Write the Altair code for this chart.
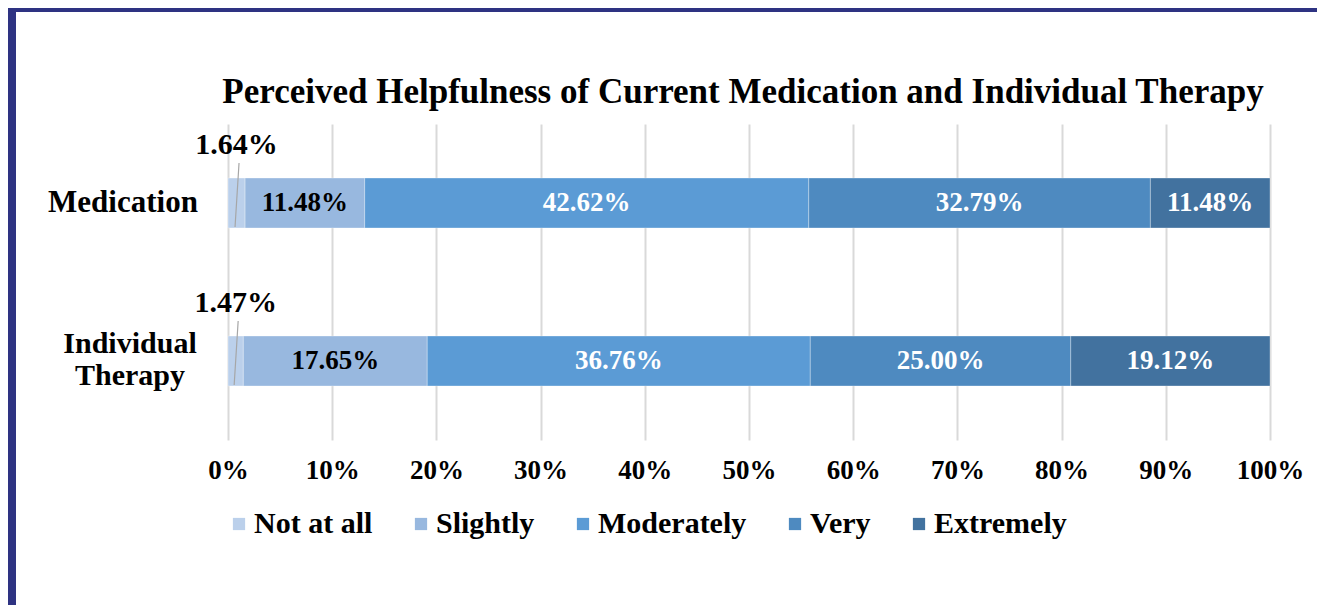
import altair as alt
import pandas as pd

categories = ["Medication", "Individual Therapy"]
levels = ["Not at all", "Slightly", "Moderately", "Very", "Extremely"]
medication = [1.64, 11.48, 42.62, 32.79, 11.48]
therapy = [1.47, 17.65, 36.76, 25.00, 19.12]
colors = ["#BBD0EB", "#98B8DF", "#5B9BD5", "#4E8AC0", "#42729F"]
x_ticks = [0, 0.1, 0.2, 0.3, 0.4, 0.5, 0.6, 0.7, 0.8, 0.9, 1.0]
title_text = "Perceived Helpfulness of Current Medication and Individual Therapy"

rows = []
for cat, vals in zip(categories, [medication, therapy]):
    for i, (lv, v) in enumerate(zip(levels, vals)):
        rows.append({"category": cat, "level": lv, "value": v, "order": i})
df = pd.DataFrame(rows)

FONT = "Liberation Serif"
W, H = 1042, 316
PL, PT, PR, PB = 220, 116, 47, 165

base = (
    alt.Chart(df)
    .transform_stack(
        stack="value",
        groupby=["category"],
        as_=["v0", "v1"],
        offset="normalize",
        sort=[alt.SortField("order", order="ascending")],
    )
    .transform_calculate(
        mid="(datum.v0 + datum.v1) / 2",
        label="format(datum.value, '.2f') + '%'",
    )
)

y_enc = alt.Y(
    "category:N",
    sort=categories,
    scale=alt.Scale(paddingInner=0.684, paddingOuter=0.342),
    axis=alt.Axis(title=None, domain=False, ticks=False, grid=False, labels=False),
)

bars = base.mark_bar(stroke="#FFFFFF", strokeWidth=0.6, strokeOpacity=0.5).encode(
    x=alt.X(
        "v0:Q",
        scale=alt.Scale(domain=[0, 1], nice=False),
        axis=alt.Axis(
            title=None,
            values=x_ticks,
            format=".0%",
            domain=False,
            ticks=False,
            grid=True,
            gridColor="#D9D9D9",
            gridWidth=2,
            labelFont=FONT,
            labelFontWeight="bold",
            labelFontSize=27,
            labelColor="#000000",
            labelBaseline="alphabetic",
            labelPadding=38,
            labelFlush=False,
        ),
    ),
    x2="v1:Q",
    y=y_enc,
    color=alt.Color(
        "level:N",
        sort=levels,
        scale=alt.Scale(domain=levels, range=colors),
        legend=alt.Legend(
            title=None,
            orient="none",
            legendX=-4,
            legendY=385,
            direction="horizontal",
            symbolType="square",
            symbolSize=150,
            symbolStrokeWidth=0,
            labelFont=FONT,
            labelFontWeight="bold",
            labelFontSize=30,
            labelColor="#000000",
            labelOffset=0,
            columnPadding=33,
            labelLimit=0,
        ),
    ),
)

bar_text = (
    base.transform_filter("datum.order > 0")
    .mark_text(font=FONT, fontWeight="bold", fontSize=27, baseline="middle", align="center")
    .encode(
        x="mid:Q",
        y=alt.Y("category:N", sort=categories),
        text="label:N",
        color=alt.condition(
            "datum.level == 'Slightly'", alt.value("#000000"), alt.value("#FFFFFF")
        ),
    )
)

small_text = (
    base.transform_filter("datum.order == 0")
    .mark_text(font=FONT, fontWeight="bold", fontSize=30, baseline="alphabetic", align="center", dy=-49)
    .encode(
        x="mid:Q",
        y=alt.Y("category:N", sort=categories),
        text="label:N",
        color=alt.value("#000000"),
    )
)

leader = (
    base.transform_filter("datum.order == 0")
    .mark_rule(color="#A6A6A6", strokeWidth=1.2, xOffset=2.5, x2Offset=-1.5, yOffset=-40, y2Offset=24)
    .encode(
        x="mid:Q",
        x2="mid:Q",
        y=alt.Y("category:N", sort=categories, bandPosition=0.5),
        y2="category:N",
    )
)

cat_med = (
    alt.Chart(pd.DataFrame({"category": [categories[0]]}))
    .mark_text(font=FONT, fontWeight="bold", fontSize=31, baseline="middle", align="center", color="#000000")
    .encode(
        x=alt.value(-105),
        y=alt.Y("category:N", sort=categories),
        text=alt.value(categories[0]),
    )
)
cat_ther = (
    alt.Chart(pd.DataFrame({"category": [categories[1]]}))
    .mark_text(font=FONT, fontWeight="bold", fontSize=30, baseline="alphabetic", align="center",
               color="#000000", lineHeight=32, dy=-8)
    .encode(
        x=alt.value(-98),
        y=alt.Y("category:N", sort=categories),
        text=alt.value(["Individual", "Therapy"]),
    )
)

one = pd.DataFrame({"k": [0]})
frame_left = alt.Chart(one).mark_rect(color="#2E3382").encode(
    x=alt.value(-PL), x2=alt.value(-PL + 8), y=alt.value(-PT), y2=alt.value(H + PB)
)
frame_top = alt.Chart(one).mark_rect(color="#2E3382").encode(
    x=alt.value(-PL), x2=alt.value(W + PR), y=alt.value(-PT), y2=alt.value(-PT + 4)
)
title = alt.Chart(one).mark_text(
    text=title_text, font=FONT, fontWeight="bold", fontSize=35,
    align="center", baseline="alphabetic", color="#000000",
).encode(x=alt.value(515), y=alt.value(-21))

chart = (
    alt.layer(bars, bar_text, small_text, leader, cat_med, cat_ther, frame_left, frame_top, title)
    .properties(
        width=W,
        height=H,
        padding={"left": PL, "top": PT, "right": PR, "bottom": PB},
        autosize=alt.AutoSizeParams(type="none"),
        background="#FFFFFF",
    )
    .configure_view(stroke=None)
)

chart.save("out.html", embed_options={"renderer": "svg", "actions": False})
